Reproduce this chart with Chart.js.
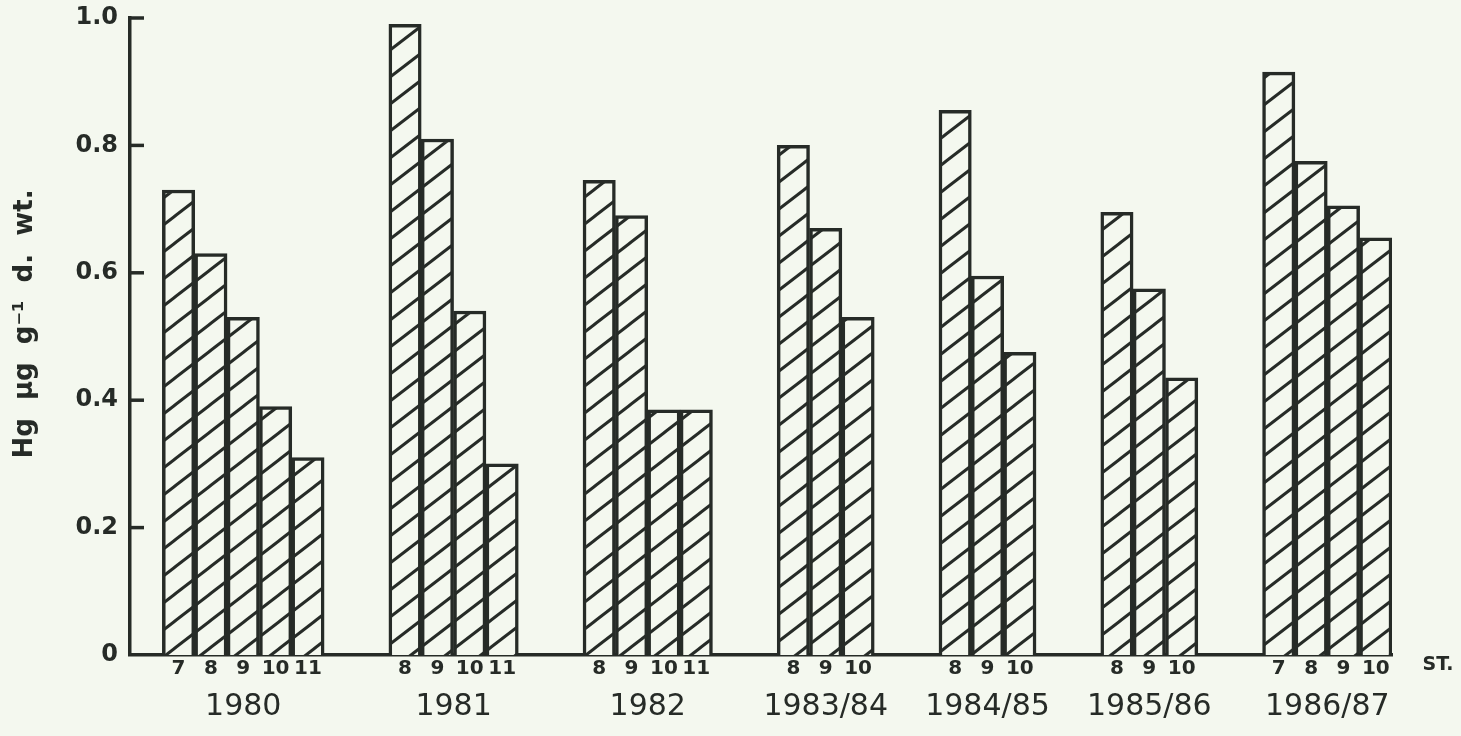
<!DOCTYPE html>
<html>
<head>
<meta charset="utf-8">
<script src="https://cdn.jsdelivr.net/npm/chart.js@4/dist/chart.umd.min.js"></script>
<style>
  html, body { margin: 0; padding: 0; background: #f4f8ef; }
  #wrap { width: 1461px; height: 736px; }
</style>
</head>
<body>
<div id="wrap"><canvas id="chart"></canvas></div>
<script>
// years (group labels under the axis)
var years = ['1980', '1981', '1982', '1983/84', '1984/85', '1985/86', '1986/87'];
// stations per year
var st1980 = ['7', '8', '9', '10', '11'];
var st1981 = ['8', '9', '10', '11'];
var st1982 = ['8', '9', '10', '11'];
var st1983 = ['8', '9', '10'];
var st1984 = ['8', '9', '10'];
var st1985 = ['8', '9', '10'];
var st1986 = ['7', '8', '9', '10'];
// Hg, ug/g dry weight
var hg1980 = [0.73, 0.63, 0.53, 0.39, 0.31];
var hg1981 = [0.99, 0.81, 0.54, 0.30];
var hg1982 = [0.745, 0.69, 0.385, 0.385];
var hg1983 = [0.80, 0.67, 0.53];
var hg1984 = [0.855, 0.595, 0.475];
var hg1985 = [0.695, 0.575, 0.435];
var hg1986 = [0.915, 0.775, 0.705, 0.655];
var yTicks = [0, 0.2, 0.4, 0.6, 0.8, 1.0];

var stations = [st1980, st1981, st1982, st1983, st1984, st1985, st1986];
var values = [hg1980, hg1981, hg1982, hg1983, hg1984, hg1985, hg1986];

var ink = '#262b27';
var paper = '#f4f8ef';

// flatten groups into one category axis, with empty slots between years
var labels = [], data = [], groupIdx = [];
labels.push(''); data.push(null);
for (var g = 0; g < years.length; g++) {
	if (g > 0) { labels.push('', ''); data.push(null, null); }
	var first = labels.length;
	for (var i = 0; i < stations[g].length; i++) {
		labels.push(stations[g][i]);
		data.push(values[g][i]);
	}
	groupIdx.push([first, labels.length - 1]);
}

// diagonal hatch
function hatch() {
	var w = 35, h = 27;
	var c = document.createElement('canvas');
	c.width = w; c.height = h;
	var p = c.getContext('2d');
	p.fillStyle = paper;
	p.fillRect(0, 0, w, h);
	p.strokeStyle = ink;
	p.lineWidth = 3;
	[-h, 0, h].forEach(function (off) {
		p.beginPath();
		p.moveTo(-w, 2 * h + off);
		p.lineTo(2 * w, -h + off);
		p.stroke();
	});
	return p.createPattern(c, 'repeat');
}

var decor = {
	id: 'decor',
	beforeDraw: function (chart) {
		var c = chart.ctx;
		c.save();
		c.fillStyle = paper;
		c.fillRect(0, 0, chart.width, chart.height);
		c.restore();
	},
	afterDraw: function (chart) {
		var c = chart.ctx, x = chart.scales.x, y = chart.scales.y, a = chart.chartArea;
		c.save();
		// inward tick marks on the y axis
		c.strokeStyle = ink;
		c.lineWidth = 3.5;
		yTicks.forEach(function (v) {
			if (v === 0) return;
			var py = y.getPixelForValue(v);
			c.beginPath();
			c.moveTo(a.left, py);
			c.lineTo(a.left + 14, py);
			c.stroke();
		});
		c.fillStyle = ink;
		c.textAlign = 'center';
		c.textBaseline = 'middle';
		// year labels
		c.font = '30px "DejaVu Sans"';
		groupIdx.forEach(function (r, k) {
			var cx = (x.getPixelForValue(r[0]) + x.getPixelForValue(r[1])) / 2;
			c.fillText(years[k], cx, a.bottom + 52);
		});
		// station marker
		c.font = 'bold 19px "DejaVu Sans"';
		c.fillText('ST.', a.right + 46, a.bottom + 10);
		// y title
		c.translate(25, 324);
		c.rotate(-Math.PI / 2);
		c.font = 'bold 26px "DejaVu Sans"';
		c.fillText('Hg  \u00b5g  g\u207b\u00b9  d.  wt.', 0, 0);
		c.restore();
	}
};

var ctx = document.getElementById('chart').getContext('2d');
var chart = new Chart(ctx, {
	type: 'bar',
	data: {
		labels: labels,
		datasets: [{
			label: 'Hg',
			data: data,
			backgroundColor: hatch(),
			borderColor: ink,
			borderWidth: 3.5,
			barPercentage: 1,
			categoryPercentage: 1
		}]
	},
	options: {
		responsive: true,
		maintainAspectRatio: false,
		animation: false,
		layout: { padding: { top: 18, right: 69, left: 0, bottom: 0 } },
		plugins: { legend: { display: false }, tooltip: { enabled: false } },
		scales: {
			x: {
				grid: { display: false, drawTicks: false },
				border: { display: true, color: ink, width: 3.5 },
				ticks: {
					color: ink,
					padding: 2,
					autoSkip: false,
					maxRotation: 0,
					font: { family: 'DejaVu Sans', size: 20, weight: 'bold' }
				},
				afterFit: function (s) { s.height = 81; }
			},
			y: {
				min: 0,
				max: 1,
				afterBuildTicks: function (s) {
					s.ticks = yTicks.map(function (v) { return { value: v }; });
				},
				grid: { display: false, drawTicks: false },
				border: { display: true, color: ink, width: 3.5 },
				ticks: {
					color: ink,
					padding: 12,
					font: { family: 'DejaVu Sans', size: 24, weight: 'bold' },
					callback: function (v) { return v === 0 ? '0' : v.toFixed(1); }
				},
				afterFit: function (s) {
					s.width = 130;
					s.paddingTop = 0;
					s.paddingBottom = 0;
				}
			}
		}
	},
	plugins: [decor]
});
</script>
</body>
</html>
